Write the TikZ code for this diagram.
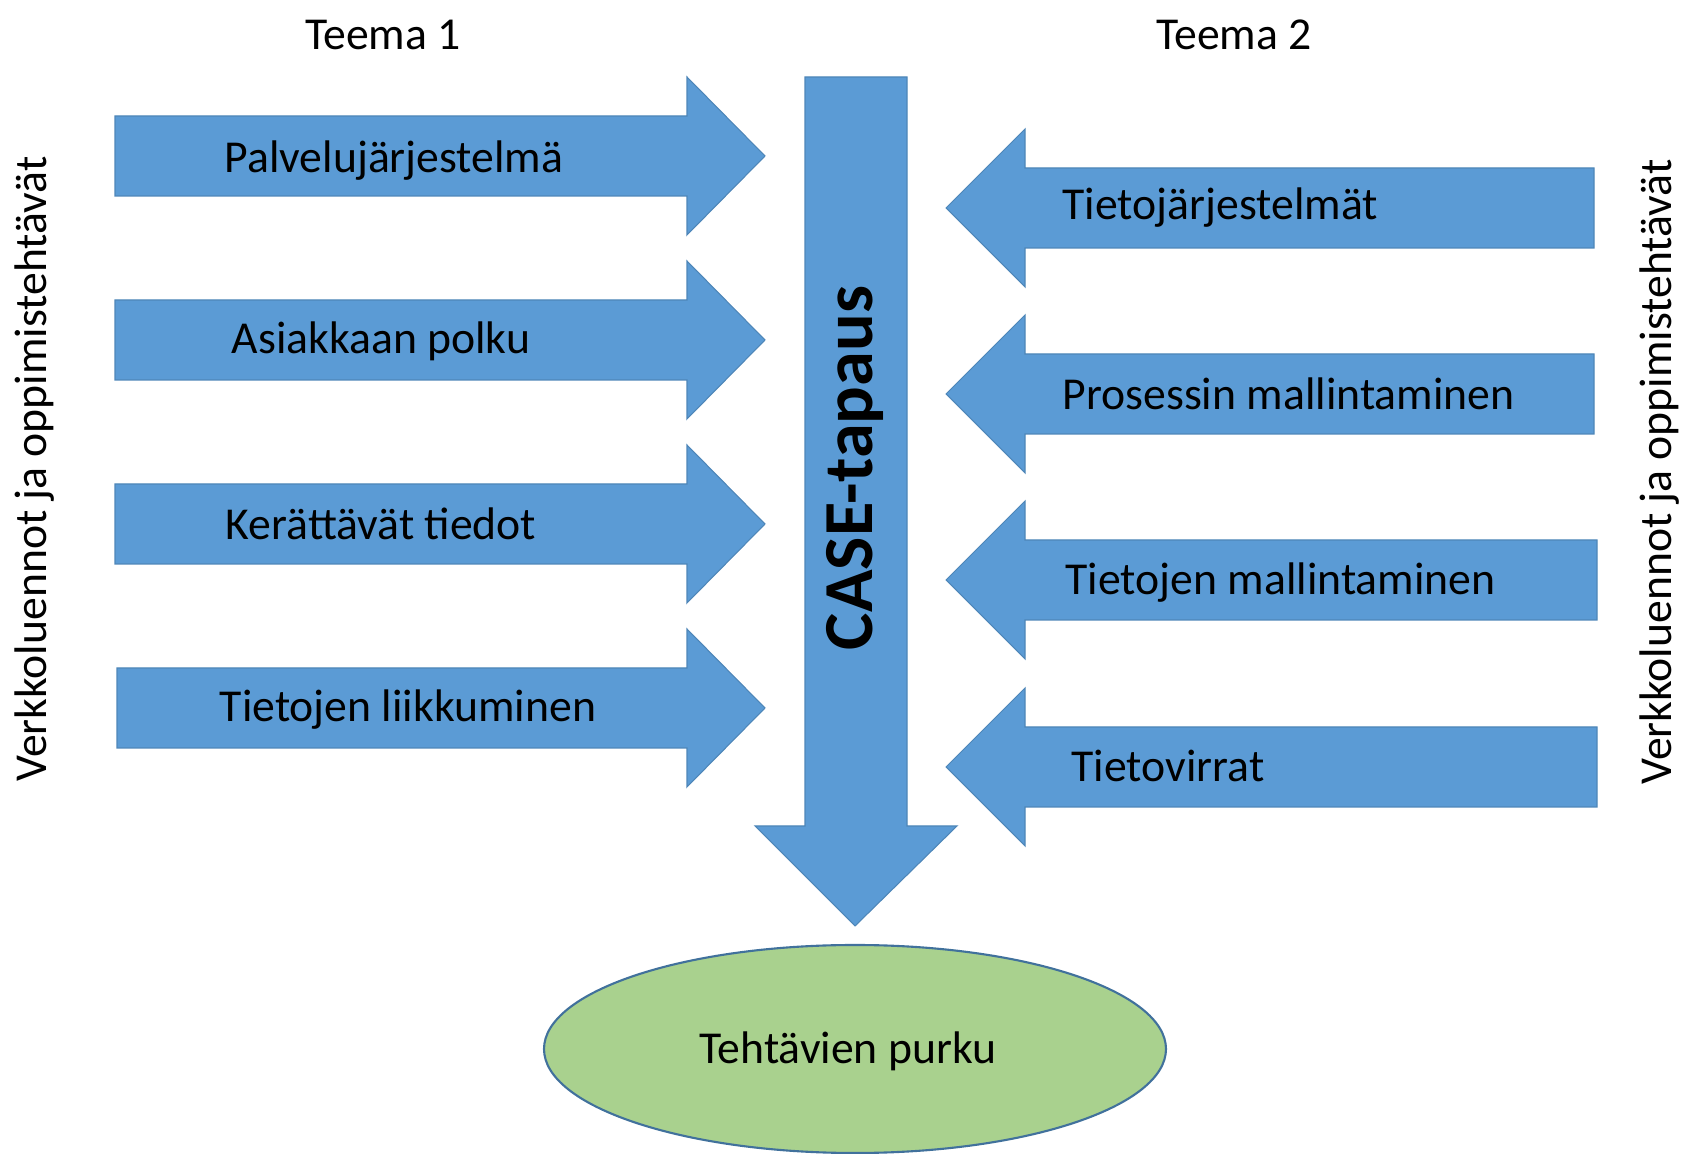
\documentclass[tikz,border=0pt]{standalone}
\usepackage{fontspec}
\setmainfont{Carlito}
\usetikzlibrary{shapes.geometric}

\definecolor{nuolisini}{HTML}{5B9BD5}
\definecolor{reunasini}{HTML}{41719C}
\definecolor{purkuvihrea}{HTML}{A9D18E}

\tikzset{
    nuoli/.style={fill=nuolisini, draw=reunasini!50!nuolisini, line width=0.3pt},
    teksti/.style={font=\fontsize{13}{15}\selectfont, inner sep=0pt},
}

\begin{document}
\begin{tikzpicture}[x=0.1mm, y=-0.1mm]

    \useasboundingbox (0,0) rectangle (1683,1154);

    % Otsikot
    \node[teksti] (teema1) at (383,35)  {Teema 1};
    \node[teksti] (teema2) at (1234,35) {Teema 2};

    % Sivutekstit
    \node[teksti, rotate=90] (vasen) at (35,469)   {Verkkoluennot ja oppimistehtävät};
    \node[teksti, rotate=90] (oikea) at (1660,472) {Verkkoluennot ja oppimistehtävät};

    % Vasemmat nuolet
    \draw[nuoli] (115,116) -- (687,116) -- (687,77) -- (765,156)
        -- (687,235) -- (687,196) -- (115,196) -- cycle;
    \draw[nuoli] (115,300) -- (687,300) -- (687,261) -- (765,340)
        -- (687,419) -- (687,380) -- (115,380) -- cycle;
    \draw[nuoli] (115,484) -- (687,484) -- (687,445) -- (765,524)
        -- (687,603) -- (687,564) -- (115,564) -- cycle;
    \draw[nuoli] (117,668) -- (687,668) -- (687,629) -- (765,708)
        -- (687,787) -- (687,748) -- (117,748) -- cycle;

    % Oikeat nuolet
    \draw[nuoli] (1594,168) -- (1025,168) -- (1025,129) -- (946,208)
        -- (1025,287) -- (1025,248) -- (1594,248) -- cycle;
    \draw[nuoli] (1594,354) -- (1025,354) -- (1025,315) -- (946,394)
        -- (1025,473) -- (1025,434) -- (1594,434) -- cycle;
    \draw[nuoli] (1597,540) -- (1025,540) -- (1025,501) -- (946,580)
        -- (1025,659) -- (1025,620) -- (1597,620) -- cycle;
    \draw[nuoli] (1597,727) -- (1025,727) -- (1025,688) -- (946,767)
        -- (1025,846) -- (1025,807) -- (1597,807) -- cycle;

    % Keskinuoli
    \draw[nuoli] (805,77) -- (907,77) -- (907,826) -- (957,826)
        -- (855,926) -- (755,826) -- (805,826) -- cycle;

    % Nuolten tekstit
    \node[teksti] (palvelu)  at (394,161) {Palvelujärjestelmä};
    \node[teksti] (polku)    at (381,341) {Asiakkaan polku};
    \node[teksti] (tiedot)   at (381,524) {Kerättävät tiedot};
    \node[teksti] (liikkuminen) at (408,710) {Tietojen liikkuminen};

    \node[teksti, anchor=west] (tietojarj)  at (1062,208) {Tietojärjestelmät};
    \node[teksti, anchor=west] (prosessi)   at (1062,394) {Prosessin mallintaminen};
    \node[teksti, anchor=west] (tietomalli) at (1065,583) {Tietojen mallintaminen};
    \node[teksti, anchor=west] (virrat)     at (1071,766) {Tietovirrat};

    \node[rotate=90, inner sep=0pt, font=\bfseries\fontsize{20}{24}\selectfont]
        (case) at (855,468) {CASE-tapaus};

    % Purku
    \node[ellipse, draw=reunasini, fill=purkuvihrea, line width=0.6pt,
        minimum width=62.2mm, minimum height=20.8mm, inner sep=0pt]
        (purku) at (855,1049) {};
    \node[teksti] (purkuteksti) at (848,1051) {Tehtävien purku};

\end{tikzpicture}
\end{document}
